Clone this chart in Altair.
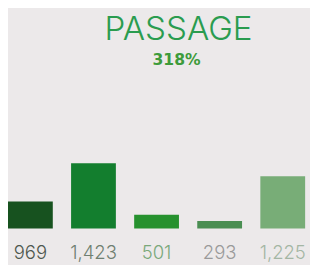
import altair as alt
import pandas as pd

categories = ["A", "B", "C", "D", "E"]
bar_values = [590, 1423, 300, 165, 1140]
label_texts = ["969", "1,423", "501", "293", "1,225"]
bar_colors = ["#17521f", "#137e2e", "#26912e", "#4a8e52", "#78ad77"]
label_colors = ["#4e584e", "#6f7f71", "#7aa87a", "#9a9a9a", "#a4b6a4"]
title_text = "PASSAGE"
subtitle_text = "318%"

df = pd.DataFrame({
    "cat": categories,
    "value": bar_values,
    "label": label_texts,
    "bar_color": bar_colors,
    "label_color": label_colors,
})

W, H = 310, 257
x = alt.X("cat:N", sort=categories, axis=None,
          scale=alt.Scale(range=[0, 305], paddingInner=0.29, paddingOuter=0))
y = alt.Y("value:Q", axis=None, scale=alt.Scale(domain=[0, 1423], range=[223, 156]))

base = alt.Chart(df)
bars = base.mark_bar().encode(x=x, y=y, color=alt.Color("bar_color:N", scale=None))
labels = base.mark_text(fontSize=19, font="Inter", fontWeight=300, baseline="alphabetic", align="center").encode(
    x=x, y=alt.value(254), text="label:N", color=alt.Color("label_color:N", scale=None))

tdf = pd.DataFrame({"t": [title_text]})
sdf = pd.DataFrame({"t": [subtitle_text]})
title = alt.Chart(tdf).mark_text(fontSize=34, font="Inter", fontWeight=300, color="#2a9c4f",
                                 baseline="alphabetic", align="center").encode(
    x=alt.value(175), y=alt.value(29), text="t:N")
subtitle = alt.Chart(sdf).mark_text(fontSize=16, font="DejaVu Sans", fontWeight="bold", color="#3d9b3b",
                                    baseline="alphabetic", align="center").encode(
    x=alt.value(173), y=alt.value(55), text="t:N")

chart = alt.layer(bars, labels, title, subtitle).properties(
    width=W, height=H, padding=0, autosize=alt.AutoSizeParams(type="none"),
    background="#ece9ea"
).configure_view(stroke=None)

chart.save("out.html", embed_options={"renderer": "svg", "actions": False})
